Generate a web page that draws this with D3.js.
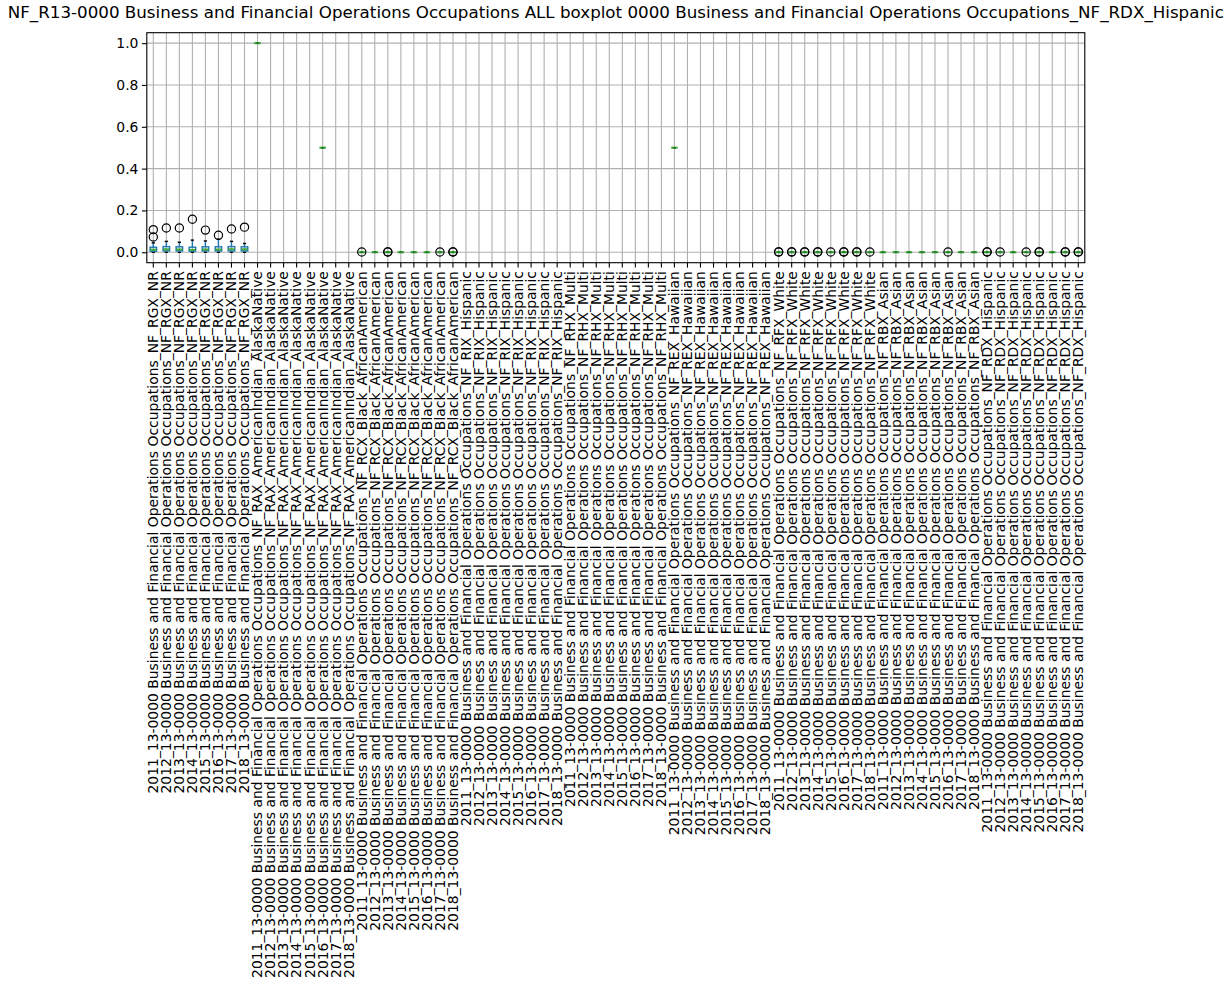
<!DOCTYPE html>
<html>
<head>
<meta charset="utf-8">
<script src="https://cdn.jsdelivr.net/npm/d3@7/dist/d3.min.js"></script>
<style>
  body { margin: 0; background: #fff; }
  svg { display: block; font-family: "DejaVu Sans", sans-serif; }
</style>
</head>
<body>
<svg id="chart" width="1229" height="990"></svg>
<script>
const chartTitle = "NF_R13-0000 Business and Financial Operations Occupations ALL boxplot 0000 Business and Financial Operations Occupations_NF_RDX_Hispanic";
const groups = ["RGX_NR", "RAX_AmericanIndian_AlaskaNative", "RCX_Black_AfricanAmerican", "RIX_Hispanic", "RHX_Multi", "REX_Hawaiian", "RFX_White", "RBX_Asian", "RDX_Hispanic"];
const years = [2011, 2012, 2013, 2014, 2015, 2016, 2017, 2018];
const yTicks = [0.0, 0.2, 0.4, 0.6, 0.8, 1.0];

// Box statistics per category (72 = 9 groups x 8 years), null = no data
const N = null;
const q1 = [
  0.005,0.006,0.006,0.005,0.006,0.006,0.006,0.006,
  1.0,N,N,N,N,0.5,N,N,
  0,0,0,0,0,0,0,0,
  N,N,N,N,N,N,N,N,
  N,N,N,N,N,N,N,N,
  0.5,N,N,N,N,N,N,N,
  0,0,0,0,0,0,0,0,
  0,0,0,0,0,0,0,0,
  0,0,0,0,0,0,0,0
];
const medians = [
  0.012,0.014,0.013,0.011,0.013,0.013,0.014,0.014,
  1.0,N,N,N,N,0.5,N,N,
  0,0,0,0,0,0,0,0,
  N,N,N,N,N,N,N,N,
  N,N,N,N,N,N,N,N,
  0.5,N,N,N,N,N,N,N,
  0,0,0,0,0,0,0,0,
  0,0,0,0,0,0,0,0,
  0,0,0,0,0,0,0,0
];
const q3 = [
  0.024,0.027,0.026,0.024,0.026,0.026,0.027,0.026,
  1.0,N,N,N,N,0.5,N,N,
  0,0,0,0,0,0,0,0,
  N,N,N,N,N,N,N,N,
  N,N,N,N,N,N,N,N,
  0.5,N,N,N,N,N,N,N,
  0,0,0,0,0,0,0,0,
  0,0,0,0,0,0,0,0,
  0,0,0,0,0,0,0,0
];
const whiskerLow = [
  0,0,0,0,0,0,0,0,
  1.0,N,N,N,N,0.5,N,N,
  0,0,0,0,0,0,0,0,
  N,N,N,N,N,N,N,N,
  N,N,N,N,N,N,N,N,
  0.5,N,N,N,N,N,N,N,
  0,0,0,0,0,0,0,0,
  0,0,0,0,0,0,0,0,
  0,0,0,0,0,0,0,0
];
const whiskerHigh = [
  0.045,0.052,0.048,0.058,0.054,0.062,0.052,0.042,
  1.0,N,N,N,N,0.5,N,N,
  0,0,0,0,0,0,0,0,
  N,N,N,N,N,N,N,N,
  N,N,N,N,N,N,N,N,
  0.5,N,N,N,N,N,N,N,
  0,0,0,0,0,0,0,0,
  0,0,0,0,0,0,0,0,
  0,0,0,0,0,0,0,0
];
const fliers = [
  [0.108,0.073],[0.116],[0.116],[0.158],[0.106],[0.081],[0.111],[0.12],
  [],[],[],[],[],[],[],[],
  [0.001],[],[0.001,0.002],[],[],[],[0.001],[0.001,0.002],
  [],[],[],[],[],[],[],[],
  [],[],[],[],[],[],[],[],
  [],[],[],[],[],[],[],[],
  [0.001,0.002],[0.001,0.002],[0.001,0.002],[0.001,0.002],[0.001],[0.001,0.002],[0.001,0.002],[0.001],
  [],[],[],[],[],[0.001],[],[],
  [0.001,0.002],[0.001],[],[0.001],[0.001,0.002],[],[0.001,0.002],[0.001,0.002]
];

const categories = [];
groups.forEach(g => years.forEach(y => categories.push(`${y}_13-0000 Business and Financial Operations Occupations_NF_${g}`)));

const rows = categories.map((c, i) => ({
  cat: c, q1: q1[i], med: medians[i], q3: q3[i], lo: whiskerLow[i], hi: whiskerHigh[i], fliers: fliers[i]
}));

const margin = { left: 146.8, right: 1229 - 1084.8, top: 32.7, bottom: 990 - 262.7 };
const W = 1229, H = 990;
const svg = d3.select("#chart");

const x = d3.scaleBand().domain(categories).range([margin.left, W - margin.right]).paddingInner(0).paddingOuter(0);
const y = d3.scaleLinear().domain([-0.05, 1.05]).range([H - margin.bottom, margin.top]);
const bw = x.bandwidth();
const cx = c => x(c) + bw / 2;

// grid
const grid = svg.append("g");
grid.selectAll("line.gx").data(categories).join("line")
  .attr("x1", d => cx(d)).attr("x2", d => cx(d))
  .attr("y1", margin.top).attr("y2", H - margin.bottom)
  .attr("stroke", "#b0b0b0").attr("stroke-width", 1.1);
grid.selectAll("line.gy").data(yTicks).join("line")
  .attr("x1", margin.left).attr("x2", W - margin.right)
  .attr("y1", d => y(d)).attr("y2", d => y(d))
  .attr("stroke", "#b0b0b0").attr("stroke-width", 1.1);

// boxes
const boxW = bw * 0.5, capW = bw * 0.25;
const data = rows.filter(r => r.med !== null);
const g = svg.append("g");
const blue = "#1f77b4", green = "#2ca02c";
data.forEach(r => {
  const c = cx(r.cat);
  // whiskers
  g.append("line").attr("x1", c).attr("x2", c).attr("y1", y(r.q1)).attr("y2", y(r.lo)).attr("stroke", blue).attr("stroke-width", 1.4);
  g.append("line").attr("x1", c).attr("x2", c).attr("y1", y(r.q3)).attr("y2", y(r.hi)).attr("stroke", blue).attr("stroke-width", 1.4);
  // caps
  g.append("line").attr("x1", c - capW / 2).attr("x2", c + capW / 2).attr("y1", y(r.lo)).attr("y2", y(r.lo)).attr("stroke", "#000").attr("stroke-width", 1.4);
  g.append("line").attr("x1", c - capW / 2).attr("x2", c + capW / 2).attr("y1", y(r.hi)).attr("y2", y(r.hi)).attr("stroke", "#000").attr("stroke-width", 1.4);
  // box
  g.append("rect").attr("x", c - boxW / 2).attr("y", y(r.q3)).attr("width", boxW)
    .attr("height", Math.max(0, y(r.q1) - y(r.q3))).attr("fill", "none").attr("stroke", blue).attr("stroke-width", 1.4);
  // median
  g.append("line").attr("x1", c - boxW / 2).attr("x2", c + boxW / 2).attr("y1", y(r.med)).attr("y2", y(r.med))
    .attr("stroke", green).attr("stroke-width", 2.2).attr("opacity", 0.85);
  // fliers
  r.fliers.forEach(f => {
    g.append("circle").attr("cx", c).attr("cy", y(f)).attr("r", 4.1)
      .attr("fill", "none").attr("stroke", "#000").attr("stroke-width", 1.2);
  });
});

// axes
const xAxis = d3.axisBottom(x).tickSize(4.9).tickPadding(3.5);
const gx = svg.append("g").attr("transform", `translate(0,${H - margin.bottom})`).call(xAxis);
gx.select(".domain").remove();
gx.selectAll(".tick line").attr("stroke", "#000").attr("stroke-width", 1.1);
gx.selectAll(".tick text")
  .attr("font-size", "13.9px").attr("fill", "#000")
  .attr("font-family", "DejaVu Sans, sans-serif")
  .attr("transform", "rotate(-90)")
  .attr("text-anchor", "end")
  .attr("x", -8.4).attr("y", 0).attr("dy", "0.35em");

const yAxis = d3.axisLeft(y).tickValues(yTicks).tickFormat(d3.format(".1f")).tickSize(4.9).tickPadding(3.5);
const gy = svg.append("g").attr("transform", `translate(${margin.left},0)`).call(yAxis);
gy.select(".domain").remove();
gy.selectAll(".tick line").attr("stroke", "#000").attr("stroke-width", 1.1);
gy.selectAll(".tick text").attr("font-size", "13.9px").attr("fill", "#000").attr("font-family", "DejaVu Sans, sans-serif");

// spines
svg.append("rect").attr("x", margin.left).attr("y", margin.top)
  .attr("width", W - margin.left - margin.right).attr("height", H - margin.top - margin.bottom)
  .attr("fill", "none").attr("stroke", "#000").attr("stroke-width", 1.1);

// title
svg.append("text").attr("x", (margin.left + W - margin.right) / 2).attr("y", 18)
  .attr("text-anchor", "middle").attr("font-size", "16.7px").attr("fill", "#000")
  .text(chartTitle);
</script>
</body>
</html>
